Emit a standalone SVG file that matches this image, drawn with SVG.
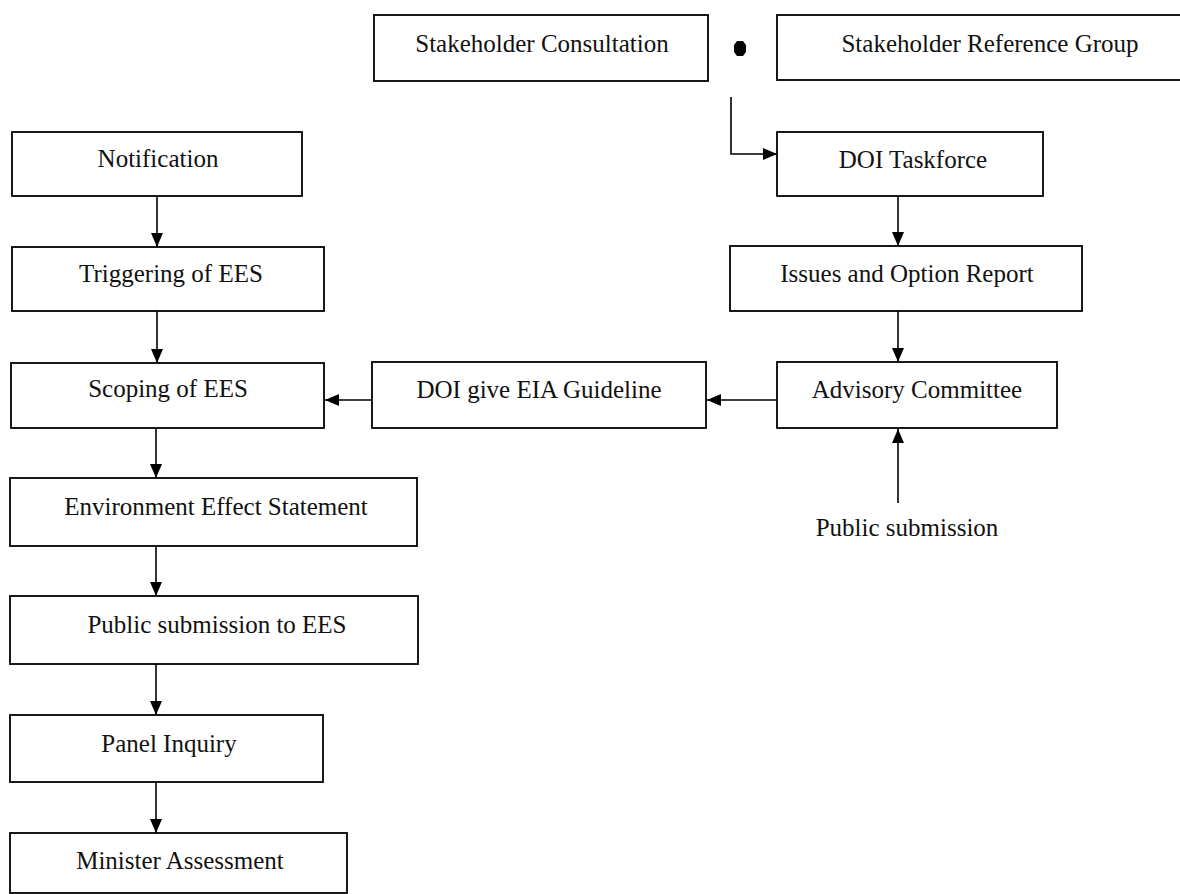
<svg xmlns="http://www.w3.org/2000/svg" width="1180" height="894" viewBox="0 0 1180 894">
<style>
.box{fill:#fff;stroke:#000;stroke-width:1.8}
.t{font-family:"Liberation Serif","Times New Roman",serif;font-size:25px;fill:#111;text-anchor:middle}
.c{fill:none;stroke:#000;stroke-width:1.6}
</style>
<defs>
<marker id="ah" viewBox="0 0 14 12" refX="14" refY="6" markerWidth="14" markerHeight="12" markerUnits="userSpaceOnUse" orient="auto">
<path d="M0,0 L14,6 L0,12 Z" fill="#000"/>
</marker>
</defs>
<rect width="1180" height="894" fill="#fff"/>
<g id="connectors">
<path class="c" d="M731,97 V154 H777" marker-end="url(#ah)"/>
<path class="c" d="M898,196 V246" marker-end="url(#ah)"/>
<path class="c" d="M898,311 V362" marker-end="url(#ah)"/>
<path class="c" d="M777,400 H707" marker-end="url(#ah)"/>
<path class="c" d="M372,400 H325" marker-end="url(#ah)"/>
<path class="c" d="M898,503 V429" marker-end="url(#ah)"/>
<path class="c" d="M157,196 V247" marker-end="url(#ah)"/>
<path class="c" d="M157,311 V363" marker-end="url(#ah)"/>
<path class="c" d="M156,428 V478" marker-end="url(#ah)"/>
<path class="c" d="M156,546 V596" marker-end="url(#ah)"/>
<path class="c" d="M156,664 V715" marker-end="url(#ah)"/>
<path class="c" d="M156,782 V833" marker-end="url(#ah)"/>
<path d="M737,41 L743,41 L746,45 L746,52 L743,56 L737,56 L734,52 L734,45 Z" fill="#000"/>
</g>
<g id="stakeholder-consultation"><rect class="box" x="374" y="15" width="334" height="66"/><text class="t" x="542" y="52">Stakeholder Consultation</text></g>
<g id="stakeholder-reference-group"><rect class="box" x="777" y="15" width="410" height="65"/><text class="t" x="990" y="52">Stakeholder Reference Group</text></g>
<g id="doi-taskforce"><rect class="box" x="777" y="132" width="266" height="64"/><text class="t" x="913" y="168">DOI Taskforce</text></g>
<g id="issues-option-report"><rect class="box" x="730" y="246" width="352" height="65"/><text class="t" x="907" y="282">Issues and Option Report</text></g>
<g id="advisory-committee"><rect class="box" x="777" y="362" width="280" height="66"/><text class="t" x="917" y="398">Advisory Committee</text></g>
<g id="doi-eia-guideline"><rect class="box" x="372" y="362" width="334" height="66"/><text class="t" x="539" y="398">DOI give EIA Guideline</text></g>
<g id="public-submission"><text class="t" x="907" y="536">Public submission</text></g>
<g id="notification"><rect class="box" x="12" y="132" width="290" height="64"/><text class="t" x="158" y="167">Notification</text></g>
<g id="triggering"><rect class="box" x="12" y="247" width="312" height="64"/><text class="t" x="171" y="282">Triggering of EES</text></g>
<g id="scoping"><rect class="box" x="11" y="363" width="313" height="65"/><text class="t" x="168" y="397">Scoping of EES</text></g>
<g id="ees"><rect class="box" x="10" y="478" width="407" height="68"/><text class="t" x="216" y="515">Environment Effect Statement</text></g>
<g id="public-submission-ees"><rect class="box" x="10" y="596" width="408" height="68"/><text class="t" x="217" y="633">Public submission to EES</text></g>
<g id="panel-inquiry"><rect class="box" x="10" y="715" width="313" height="67"/><text class="t" x="169" y="752">Panel Inquiry</text></g>
<g id="minister-assessment"><rect class="box" x="10" y="833" width="337" height="60"/><text class="t" x="180" y="869">Minister Assessment</text></g>
</svg>
